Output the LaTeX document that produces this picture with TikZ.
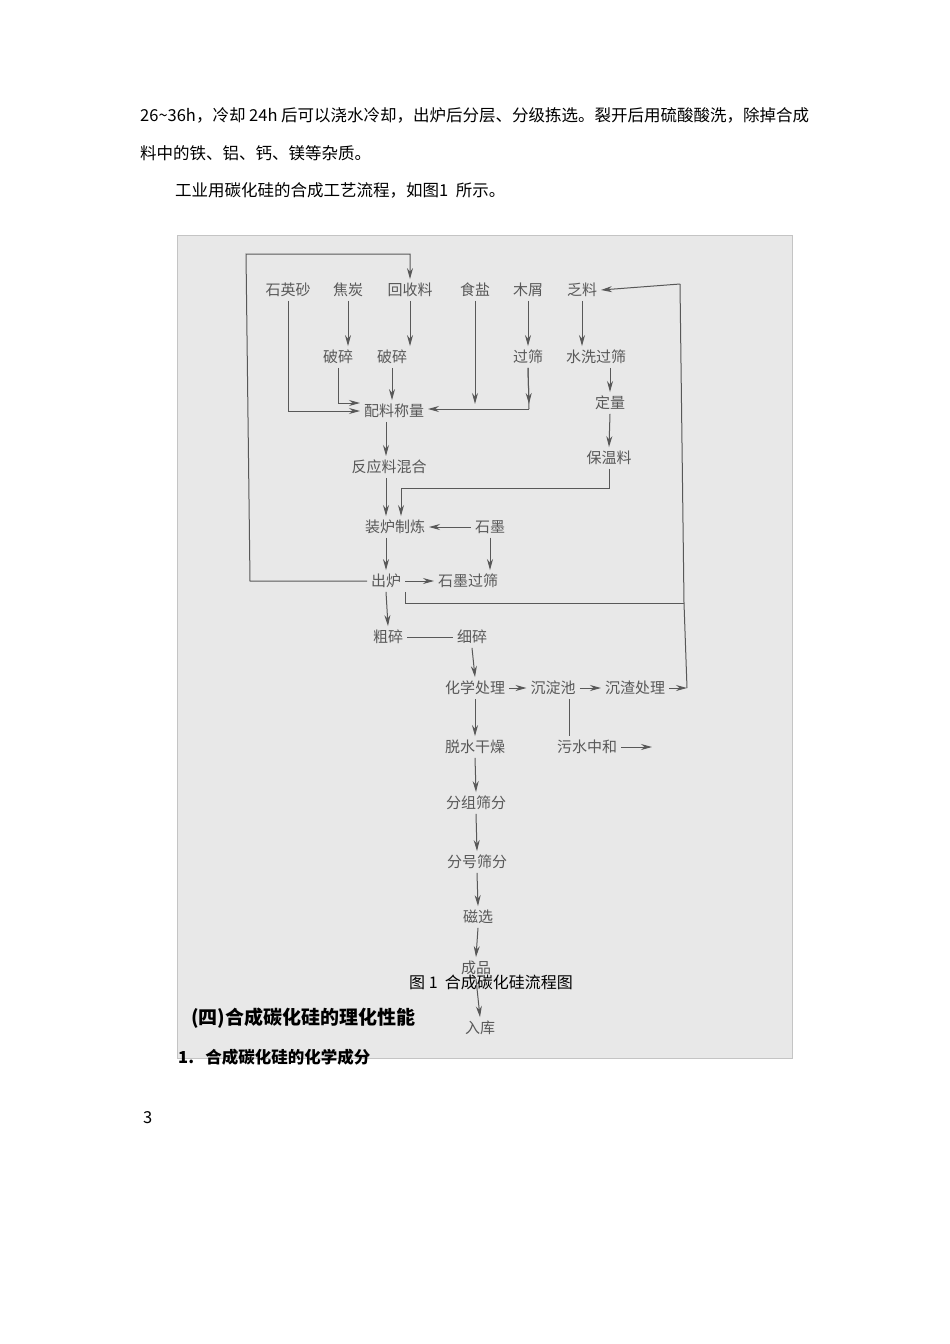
\documentclass[tikz,border=0pt]{standalone}
\usepackage{fontspec}
\setmainfont{Noto Sans CJK SC}
\usetikzlibrary{arrows.meta}

\definecolor{scan}{HTML}{E8E8E8}
\definecolor{scanedge}{HTML}{C4C4C4}
\definecolor{ink}{HTML}{585858}

\begin{document}
\begin{tikzpicture}[x=1pt, y=-1pt]
\tikzstyle{body}=[inner sep=0pt, anchor=base west, font=\fontsize{16.5}{20}\selectfont]
\tikzstyle{head}=[inner sep=0pt, anchor=base west, font=\bfseries\fontsize{17.5}{21}\selectfont]
\tikzstyle{stage}=[inner sep=3pt, outer sep=1pt, text=ink, font=\fontsize{15}{18}\selectfont]
\tikzstyle{line}=[ink, line width=1pt]
\tikzstyle{arr}=[line, -{Stealth[length=11pt, width=6pt]}]

\useasboundingbox (0,0) rectangle (950,1344);

% Page text above the figure
\node[body] (l1) at (140,121) {26\string~36h，冷却 24h 后可以浇水冷却，出炉后分层、分级拣选。裂开后用硫酸酸洗，除掉合成};
\node[body] (l2) at (140,159) {料中的铁、铝、钙、镁等杂质。};
\node[body] (l3) at (175,196) {工业用碳化硅的合成工艺流程，如图1\ \ 所示。};

% Scanned figure background
\draw[scanedge, fill=scan] (177,235) rectangle (792,1058);

% Raw materials
\node[stage] (sys) at (288,290) {石英砂};
\node[stage] (jt) at (348,290) {焦炭};
\node[stage] (hsl) at (410,290) {回收料};
\node[stage] (sy) at (475,290) {食盐};
\node[stage] (mx) at (528,290) {木屑};
\node[stage] (fl) at (582,290) {乏料};

\node[stage] (ps1) at (338,357) {破碎};
\node[stage] (ps2) at (392,357) {破碎};
\node[stage] (gs) at (528,357) {过筛};
\node[stage] (sxgs) at (596,357) {水洗过筛};

\node[stage] (plcl) at (394,411) {配料称量};
\node[stage] (dl) at (610,403) {定量};
\node[stage] (fylhh) at (389,467) {反应料混合};
\node[stage] (bwl) at (609,458) {保温料};
\node[stage] (zlzl) at (395,527) {装炉制炼};
\node[stage] (sm) at (490,527) {石墨};
\node[stage] (cl) at (386,581) {出炉};
\node[stage] (smgs) at (468,581) {石墨过筛};
\node[stage] (cs) at (388,637) {粗碎};
\node[stage] (xs) at (472,637) {细碎};
\node[stage] (hxcl) at (475,688) {化学处理};
\node[stage] (cdc) at (553,688) {沉淀池};
\node[stage] (czcl) at (635,688) {沉渣处理};
\node[stage] (tsgz) at (475,747) {脱水干燥};
\node[stage] (wszh) at (587,747) {污水中和};
\node[stage] (fzsf) at (476,803) {分组筛分};
\node[stage] (fhsf) at (477,862) {分号筛分};
\node[stage] (cx) at (478,917) {磁选};
\node[stage] (cp) at (476,968) {成品};
\node[stage] (rk) at (480,1028) {入库};

% Turning points of the loops
\coordinate (lpA) at (250,581);
\coordinate (lpB) at (246,254);
\coordinate (mj) at (529,409);
\coordinate (bwk) at (401,488);
\coordinate (rtop) at (680,284);
\coordinate (rmid) at (684,603);
\coordinate (rbot) at (687,688);
\coordinate (wsout) at (652,747);

% Batching
\draw[arr] (jt.south) -- (jt.south |- ps1.north);
\draw[arr] (hsl.south) -- (hsl.south |- ps2.north);
\draw[arr] (sys.south) |- (plcl.west);
\draw[arr] (ps1.south) |- ([yshift=8pt]plcl.west);
\draw[arr] (ps2.south) -- (ps2.south |- plcl.north);
\draw[arr] (mx.south) -- (mx.south |- gs.north);
\draw[line] (gs.south) -- (mj);
\draw[arr] (gs.south) -- ([yshift=5pt]mj);
\draw[arr] (mj) -- (mj -| plcl.east);
\draw[arr] (sy.south) -- ([yshift=5pt]sy.south |- mj);

% Insulating material
\draw[arr] (fl.south) -- (fl.south |- sxgs.north);
\draw[arr] (dl.north |- sxgs.south) -- (dl.north);
\draw[arr] (dl.south) -- (bwl.north);
\draw[arr] (bwl.south) |- (bwk) -- (bwk |- zlzl.north);

% Furnace
\draw[arr] (plcl.south -| cl) -- (fylhh.north -| cl);
\draw[arr] (fylhh.south -| cl) -- (zlzl.north -| cl);
\draw[arr] (sm.west) -- (zlzl.east);
\draw[arr] (sm.south) -- (sm.south |- smgs.north);
\draw[arr] (zlzl.south -| cl) -- (cl.north);
\draw[arr] (cl.east) -- (smgs.west);

% Return loops
\draw[arr] (cl.west) -- (lpA) -- (lpB) -| (hsl.north);
\draw[line] (cl.south east) |- (rmid);
\draw[arr] (czcl.east) -- (rbot);
\draw[line] (rbot) -- (rmid) -- (rtop);
\draw[arr] (rtop) -- (fl.east);

% Crushing and treatment
\draw[arr] (cl.south) -- (cs.north);
\draw[line] (cs.east) -- (xs.west);
\draw[arr] (xs.south) -- (hxcl.north);
\draw[arr] (hxcl.east) -- (cdc.west);
\draw[arr] (cdc.east) -- (czcl.west);
\draw[line] ([xshift=16pt]cdc.south) -- ([xshift=16pt]cdc.south |- wszh.north);
\draw[arr] (wszh.east) -- (wsout);

% Grading chain
\foreach \a/\b in {hxcl/tsgz, tsgz/fzsf, fzsf/fhsf, fhsf/cx, cx/cp, cp/rk}
    \draw[arr] (\a.south) -- (\b.north);

% Texts printed over the figure
\node[body, font=\fontsize{16}{19}\selectfont] (cap) at (409,988) {图 1 \ 合成碳化硅流程图};
\node[head, font=\bfseries\fontsize{19}{22}\selectfont] (h4) at (191,1024) {(四)合成碳化硅的理化性能};
\node[head, font=\bfseries\fontsize{16.5}{20}\selectfont] (h41) at (178,1063) {1.\ \ \ 合成碳化硅的化学成分};
\node[body] (pg) at (143,1123) {3};

\end{tikzpicture}
\end{document}
